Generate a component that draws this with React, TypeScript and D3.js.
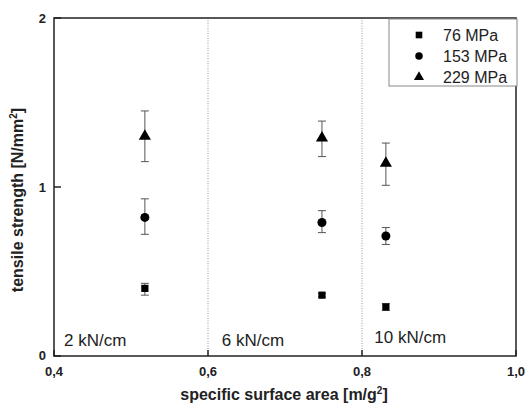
import React from 'react'
import * as d3 from 'd3'

// line load groups (x positions are specific surface area)
const surfaceArea = [0.518, 0.748, 0.831]
const seriesNames = ['76 MPa', '153 MPa', '229 MPa']
const symbols = [d3.symbolSquare, d3.symbolCircle, d3.symbolTriangle]

// mean tensile strength per series, per group
const mean76 = [0.40, 0.36, 0.29]
const mean153 = [0.82, 0.79, 0.71]
const mean229 = [1.30, 1.29, 1.14]

// error bars (low / high)
const low76 = [0.36, 0.35, 0.27]
const high76 = [0.43, 0.37, 0.31]
const low153 = [0.72, 0.73, 0.66]
const high153 = [0.93, 0.86, 0.76]
const low229 = [1.15, 1.18, 1.01]
const high229 = [1.45, 1.39, 1.26]

const xTicks = [0.4, 0.6, 0.8, 1.0]
const yTicks = [0, 1, 2]
const dividers = [0.6, 0.8]
const regionLabels = ['2 kN/cm', '6 kN/cm', '10 kN/cm']
const regionX = [0.413, 0.618, 0.816]

const W = 526
const H = 410
const margin = { left: 54, right: 10, top: 18, bottom: 54 }

const App = () => {
  const x = d3.scaleLinear().domain([0.4, 1.0]).range([margin.left, W - margin.right])
  const y = d3.scaleLinear().domain([0, 2]).range([H - margin.bottom, margin.top])
  const fmt = (v: number) => d3.format('.1f')(v).replace('.', ',')

  const series = [
    { mean: mean76, low: low76, high: high76, size: 52 },
    { mean: mean153, low: low153, high: high153, size: 64 },
    { mean: mean229, low: low229, high: high229, size: 64 },
  ]

  const font = 'Liberation Sans, Arial, sans-serif'
  const x0 = x.range()[0], x1 = x.range()[1]
  const y0 = y.range()[0], y1 = y.range()[1]

  return (
    <svg width={W} height={H} style={{ position: 'absolute', left: 0, top: 0, background: '#fff' }} fontFamily={font}>
      {/* dotted group dividers */}
      {dividers.map(d => (
        <line key={d} x1={x(d)} x2={x(d)} y1={y1} y2={y0} stroke="#999" strokeWidth={1} strokeDasharray="1,1.5" />
      ))}

      {/* error bars + markers */}
      {series.map((s, si) => (
        <g key={si}>
          {surfaceArea.map((sa, i) => {
            const cx = x(sa)
            return (
              <g key={i}>
                <line x1={cx} x2={cx} y1={y(s.low[i])} y2={y(s.high[i])} stroke="#555" strokeWidth={1} />
                <line x1={cx - 4} x2={cx + 4} y1={y(s.low[i])} y2={y(s.low[i])} stroke="#555" strokeWidth={1} />
                <line x1={cx - 4} x2={cx + 4} y1={y(s.high[i])} y2={y(s.high[i])} stroke="#555" strokeWidth={1} />
                <path d={d3.symbol(symbols[si], s.size)() as string} transform={`translate(${cx},${y(s.mean[i])})`} fill="#000" />
              </g>
            )
          })}
        </g>
      ))}

      {/* frame */}
      <rect x={x0} y={y1} width={x1 - x0} height={y0 - y1} fill="none" stroke="#222" strokeWidth={1.5} />

      {/* ticks */}
      {xTicks.map(t => (
        <g key={t}>
          <line x1={x(t)} x2={x(t)} y1={y0} y2={y0 - 6} stroke="#222" strokeWidth={1.5} />
          <text x={x(t)} y={y0 + 20} textAnchor="middle" fontSize={13} fontWeight="bold" fill="#222">{fmt(t)}</text>
        </g>
      ))}
      {yTicks.map(t => (
        <g key={t}>
          <line x1={x0} x2={x0 + 7} y1={y(t)} y2={y(t)} stroke="#222" strokeWidth={1.5} />
          <text x={x0 - 8} y={y(t) + (t === 0 ? 4 : 5)} textAnchor="end" fontSize={13} fontWeight="bold" fill="#222">{t}</text>
        </g>
      ))}

      {/* region labels */}
      {regionLabels.map((l, i) => (
        <text key={l} x={x(regionX[i])} y={i === 2 ? y0 - 13 : y0 - 10} fontSize={17} fill="#222">{l}</text>
      ))}

      {/* axis titles */}
      <text x={(x0 + x1) / 2 - 1} y={H - 10} textAnchor="middle" fontSize={16} fontWeight="bold" fill="#222">
        specific surface area [m/g<tspan dy={-6} fontSize={10}>2</tspan><tspan dy={6}>]</tspan>
      </text>
      <text transform={`translate(23,${(y0 + y1) / 2 + 13}) rotate(-90)`} textAnchor="middle" fontSize={16} fontWeight="bold" fill="#222">
        tensile strength [N/mm<tspan dy={-6} fontSize={10}>2</tspan><tspan dy={6}>]</tspan>
      </text>

      {/* legend */}
      <g>
        <rect x={389} y={19} width={128} height={67} fill="#fff" stroke="#888" strokeWidth={1} />
        {seriesNames.map((n, i) => (
          <g key={n} transform={`translate(0,${35 + i * 21})`}>
            <path d={d3.symbol(symbols[i], 44)() as string} transform="translate(419,0)" fill="#000" />
            <text x={443} y={6} fontSize={16} fill="#222">{n}</text>
          </g>
        ))}
      </g>
    </svg>
  )
}

export default App
